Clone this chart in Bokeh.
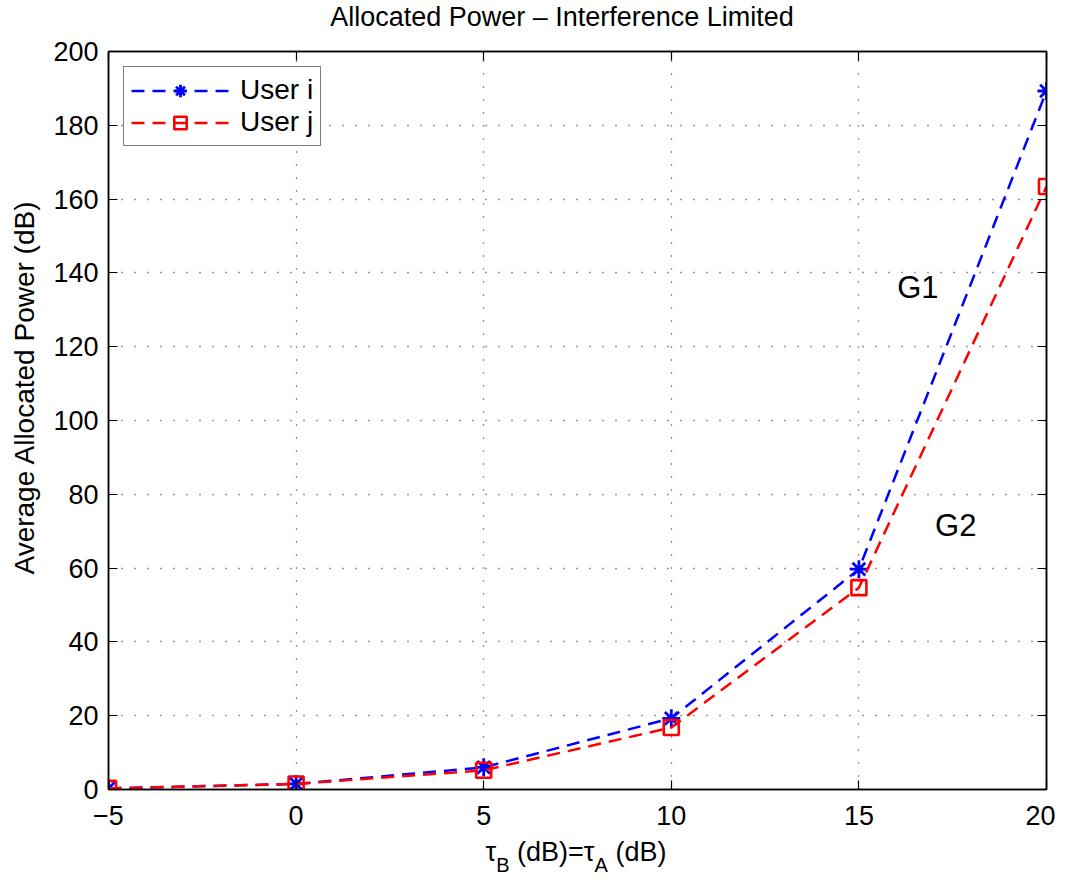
from bokeh.plotting import figure
from bokeh.layouts import column, row
from bokeh.models import (Range1d, LinearAxis, FixedTicker, Legend, LegendItem,
                          Label, CustomJSTickFormatter, Div)
from bokeh.embed import file_html
from bokeh.resources import INLINE

# ---- data ----
tau_db = [-5, 0, 5, 10, 15, 20]
user_i = [0.3, 1.5, 6.0, 19.3, 59.7, 189.3]
user_j = [0.3, 1.5, 5.2, 16.8, 54.7, 163.4]
x_ticks = [-5, 0, 5, 10, 15, 20]
y_ticks = [0, 20, 40, 60, 80, 100, 120, 140, 160, 180, 200]
title_text = "Allocated Power \u2013 Interference Limited"
y_label = "Average Allocated Power (dB)"
x_label_parts = [("\u03c4", "B", " (dB)="), ("\u03c4", "A", " (dB)")]
series_names = ["User i", "User j"]
curve_notes = [("G1", 16.57, 136.0), ("G2", 17.58, 71.5)]

FONT = "Liberation Sans"
BLUE = "#0000ff"
RED = "#ff0000"

p = figure(width=1005, height=800, x_range=Range1d(-5, 20), y_range=Range1d(0, 200),
           output_backend="svg", toolbar_location=None)
p.min_border_left = 56
p.min_border_right = 9
p.min_border_top = 15
p.min_border_bottom = 47
p.background_fill_color = "white"
p.border_fill_color = "white"
p.outline_line_color = "black"
p.outline_line_width = 1.5

xt = FixedTicker(ticks=x_ticks)
yt = FixedTicker(ticks=y_ticks)
p.xaxis.ticker = xt
p.yaxis.ticker = yt
p.xgrid.ticker = xt
p.ygrid.ticker = yt
for g in (p.xgrid, p.ygrid):
    g.grid_line_color = "#333333"
    g.grid_line_dash = "1 12"
    g.grid_line_width = 1.3

for ax in (p.xaxis, p.yaxis):
    ax.major_tick_in = 9
    ax.major_tick_out = 0
    ax.minor_tick_line_color = None
    ax.axis_line_color = "black"
    ax.axis_line_width = 1.5
    ax.major_tick_line_color = "black"
    ax.major_tick_line_width = 1.2
    ax.major_label_text_font = FONT
    ax.major_label_text_font_size = "27px"
    ax.major_label_text_color = "black"
p.xaxis.major_label_standoff = 16
p.yaxis.major_label_standoff = 10

# mirrored axes on top and right (ticks only)
for side in ("above", "right"):
    ax = LinearAxis(ticker=xt if side == "above" else yt,
                    formatter=CustomJSTickFormatter(code="return ''"))
    ax.major_tick_in = 9
    ax.major_tick_out = 0
    ax.minor_tick_line_color = None
    ax.axis_line_color = "black"
    ax.axis_line_width = 1.5
    ax.major_tick_line_color = "black"
    ax.major_tick_line_width = 1.2
    ax.major_label_standoff = 0
    ax.major_label_text_font_size = "1px"
    p.add_layout(ax, side)

# ---- series ----
li = p.line(tau_db, user_i, line_color=BLUE, line_width=2.5, line_dash="13 8")
si = p.scatter(tau_db, user_i, marker="asterisk", size=18, line_color=BLUE, line_width=2.8)
lj = p.line(tau_db, user_j, line_color=RED, line_width=2.5, line_dash="13 8")
sj = p.scatter(tau_db, user_j, marker="square", size=15, line_color=RED, line_width=2.6,
               fill_color=None)

legend = Legend(items=[LegendItem(label=series_names[0], renderers=[li, si]),
                       LegendItem(label=series_names[1], renderers=[lj, sj])],
                location="top_left")
legend.margin = 15
legend.border_line_color = "black"
legend.border_line_width = 1.5
legend.label_text_font = FONT
legend.label_text_font_size = "28px"
legend.label_text_color = "black"
legend.glyph_width = 98
legend.glyph_height = 31
legend.label_standoff = 11
legend.spacing = 0
legend.padding = 7
legend.background_fill_alpha = 1
p.add_layout(legend)

for txt, gx, gy in curve_notes:
    p.add_layout(Label(x=gx, y=gy, text=txt, text_font=FONT, text_font_size="31px",
                       text_align="center", text_baseline="middle", text_color="black"))

# ---- title (HTML above the figure) ----
title_html = ("<div style=\"width:600px;margin-left:262px;text-align:center;white-space:nowrap;"
              f"font-family:'{FONT}';font-size:27px;color:black;line-height:34px;\">"
              f"{title_text}</div>")
title_div = Div(text=title_html, width=1055, height=36, margin=0)

# ---- rotated y-axis label (HTML left of the figure) ----
ylab_html = ("<div style=\"width:400px;height:32px;margin-left:-175px;margin-top:336px;"
             "text-align:center;white-space:nowrap;transform:rotate(-90deg);"
             f"font-family:'{FONT}';font-size:28px;line-height:32px;color:black;\">"
             f"{y_label}</div>")
ylab_div = Div(text=ylab_html, width=50, height=800, margin=0)

# ---- x-axis label with subscripts (HTML below the figure) ----
sub_style = "font-size:20px;position:relative;top:11px;"
inner = "".join(f"{a}<span style='{sub_style}'>{b}</span>{c}" for a, b, c in x_label_parts)
xlab_html = ("<div style=\"width:400px;margin-left:376px;text-align:center;white-space:nowrap;"
             f"font-family:'{FONT}';font-size:27px;color:black;line-height:30px;padding-top:1px;\">"
             f"{inner}</div>")
xlab = Div(text=xlab_html, width=1055, height=38, margin=0)

layout = column(title_div, row(ylab_div, p, spacing=0), xlab, spacing=0)
open("out.html", "w").write(file_html(layout, INLINE))
